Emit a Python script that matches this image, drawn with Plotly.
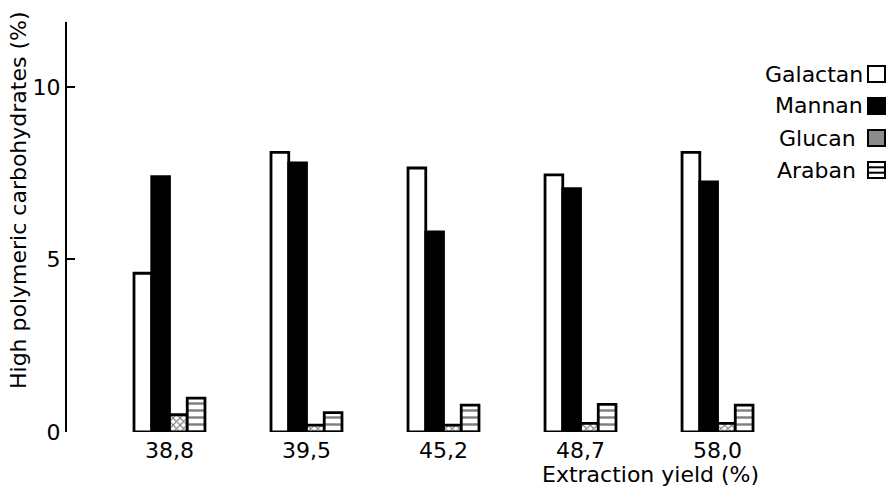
import plotly.graph_objects as go

categories = ["38,8", "39,5", "45,2", "48,7", "58,0"]
galactan = [4.6, 8.1, 7.65, 7.45, 8.1]
mannan = [7.4, 7.8, 5.8, 7.05, 7.25]
glucan = [0.5, 0.2, 0.2, 0.25, 0.25]
araban = [0.98, 0.56, 0.78, 0.8, 0.78]
series_names = ["Galactan", "Mannan", "Glucan", "Araban"]
y_ticks = [0, 5, 10]

FONT = "DejaVu Sans"
FS = 22
xpos = list(range(len(categories)))

fig = go.Figure()
line = dict(color="black", width=2.8)
fig.add_bar(x=xpos, y=galactan, name=series_names[0],
            marker=dict(color="white", line=line))
fig.add_bar(x=xpos, y=mannan, name=series_names[1],
            marker=dict(color="black", line=line))
fig.add_bar(x=xpos, y=glucan, name=series_names[2],
            marker=dict(color="white", line=line,
                        pattern=dict(shape="x", fgcolor="black", bgcolor="white",
                                     size=5, solidity=0.4)))
fig.add_bar(x=xpos, y=araban, name=series_names[3],
            marker=dict(color="white", line=line,
                        pattern=dict(shape="-", fgcolor="black", bgcolor="white",
                                     size=7, solidity=0.35)))

W, H = 891, 490
L, R, T, B = 67, 131, 22, 58
pw, ph = W - L - R, H - T - B

def px(x):
    return (x - L) / pw

def py(y):
    return (H - B - y) / ph

shapes = []
annotations = []
rows = [74, 106, 138, 170]
fills = ["white", "black", "#8c8c8c", "white"]
for i, name in enumerate(series_names):
    yc = rows[i]
    x0, x1 = 868, 885
    shapes.append(dict(type="rect", xref="paper", yref="paper",
                       x0=px(x0), x1=px(x1), y0=py(yc + 8), y1=py(yc - 8),
                       line=dict(color="black", width=2), fillcolor=fills[i]))
    if name == "Araban":
        for dy in (-2.7, 2.7):
            shapes.append(dict(type="line", xref="paper", yref="paper",
                               x0=px(x0), x1=px(x1), y0=py(yc + dy), y1=py(yc + dy),
                               line=dict(color="black", width=2)))
    annotations.append(dict(text=name, xref="paper", yref="paper",
                            x=px(865 if name not in ("Glucan", "Araban") else 858),
                            y=py(yc), xanchor="right", yanchor="middle",
                            showarrow=False, font=dict(family=FONT, size=FS, color="black")))

annotations.append(dict(text="High polymeric carbohydrates (%)", xref="paper", yref="paper",
                        x=px(18), y=py(200), textangle=-90, showarrow=False,
                        xanchor="center", yanchor="middle",
                        font=dict(family=FONT, size=FS, color="black")))
annotations.append(dict(text="Extraction yield (%)", xref="paper", yref="paper",
                        x=px(650), y=py(474), showarrow=False,
                        xanchor="center", yanchor="middle",
                        font=dict(family=FONT, size=FS, color="black")))

fig.update_layout(
    width=W, height=H,
    margin=dict(l=L, r=R, t=T, b=B, pad=0),
    paper_bgcolor="white", plot_bgcolor="white",
    barmode="group", bargap=0.482, bargroupgap=0,
    showlegend=False,
    font=dict(family=FONT, size=FS, color="black"),
    shapes=shapes, annotations=annotations,
    xaxis=dict(range=[-0.748, 4.31], tickvals=xpos, ticktext=categories,
               showline=False, showgrid=False, zeroline=False, ticks="",
               ticklabelstandoff=3, tickfont=dict(family=FONT, size=FS)),
    yaxis=dict(range=[0, 11.88], tickvals=y_ticks, showgrid=False, zeroline=False,
               showline=True, linecolor="black", linewidth=2,
               ticks="inside", ticklen=8, tickwidth=2, tickcolor="black",
               tickfont=dict(family=FONT, size=FS)),
)

fig.write_html("out.html")
